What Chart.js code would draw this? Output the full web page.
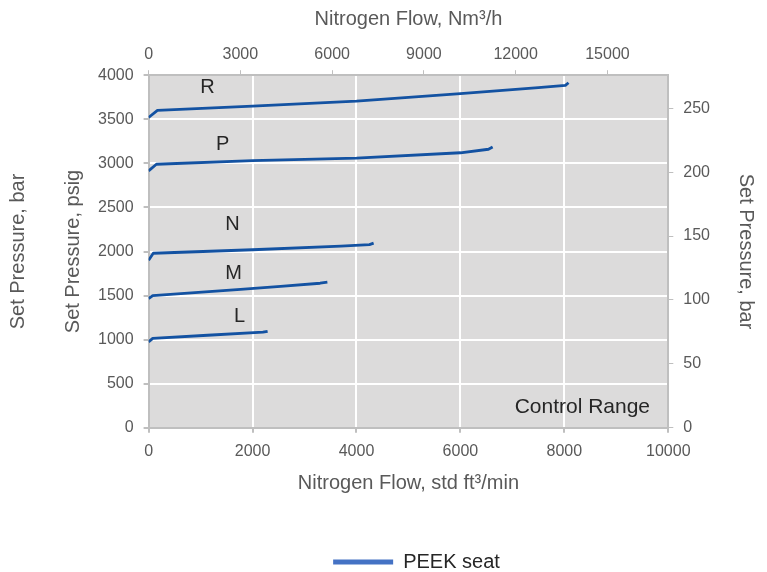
<!DOCTYPE html>
<html>
<head>
<meta charset="utf-8">
<script src="https://cdn.jsdelivr.net/npm/chart.js@4/dist/chart.umd.min.js"></script>
<style>
  html, body { margin: 0; padding: 0; background: #fff; }
  #wrap { width: 767px; height: 572px; }
</style>
</head>
<body>
<div id="wrap"><canvas id="chart"></canvas></div>
<script>
// seat curves: flow in std ft3/min, set pressure in psig
const curveNames = ["R", "P", "N", "M", "L"];

const rFlow = [0, 170, 2000, 4000, 6000, 7500, 8020, 8080];
const rPsig = [3520, 3600, 3650, 3705, 3790, 3860, 3885, 3915];

const pFlow = [0, 150, 2000, 4000, 6000, 6540, 6620];
const pPsig = [2915, 2990, 3030, 3060, 3120, 3160, 3185];

const nFlow = [0, 90, 2000, 3700, 4250, 4330];
const nPsig = [1900, 1980, 2020, 2060, 2078, 2095];

const mFlow = [0, 80, 1770, 2540, 3300, 3440];
const mPsig = [1467, 1500, 1570, 1605, 1640, 1652];

const lFlow = [0, 80, 1135, 2200, 2290];
const lPsig = [975, 1015, 1050, 1085, 1095];

// where the curve letters sit (flow, psig)
const nameFlow = [1135, 1423, 1615, 1635, 1750];
const namePsig = [3860, 3217, 2303, 1750, 1265];

const topTicks = [0, 3000, 6000, 9000, 12000, 15000];   // Nm3/h
const barTicks = [0, 50, 100, 150, 200, 250];

const seriesLabel = "PEEK seat";
const regionLabel = "Control Range";
const regionFlow = 8346, regionPsig = 237;

const FT3MIN_TO_M3H = 1.699;
const BAR_TO_PSI = 14.5038;

const LINE = "#1352a2";
const GRAY_TXT = "#595959";
const AXIS = "#bfbfbf";
const FONT = "'Liberation Sans', Arial, sans-serif";

const flows = [rFlow, pFlow, nFlow, mFlow, lFlow];
const psigs = [rPsig, pPsig, nPsig, mPsig, lPsig];

const datasets = flows.map((f, i) => ({
    label: i === 0 ? seriesLabel : curveNames[i],
    data: f.map((x, j) => ({ x, y: psigs[i][j] })),
    borderColor: LINE,
    backgroundColor: "#4472c4",
    borderWidth: 2.8,
    borderJoinStyle: "round",
    pointRadius: 0,
    tension: 0,
    xAxisID: "x",
    yAxisID: "y",
}));

const edgeless = (lo, hi) => ctx =>
    (ctx.tick && (ctx.tick.value === lo || ctx.tick.value === hi)) ? "rgba(0,0,0,0)" : "#ffffff";

const plain = v => String(v);
const tickFont = { family: FONT, size: 16 };
const titleFont = { family: FONT, size: 20 };

const bgPlugin = {
    id: "plotBg",
    beforeDraw(chart) {
        const { ctx, chartArea: a } = chart;
        ctx.save();
        ctx.fillStyle = "#dcdbdb";
        ctx.fillRect(a.left, a.top, a.right - a.left, a.bottom - a.top);
        ctx.restore();
    },
};

const textPlugin = {
    id: "curveText",
    afterDatasetsDraw(chart) {
        const { ctx, scales } = chart;
        ctx.save();
        ctx.fillStyle = "#262626";
        ctx.textAlign = "center";
        ctx.textBaseline = "middle";
        ctx.font = "20px " + FONT;
        curveNames.forEach((n, i) => {
            ctx.fillText(n, scales.x.getPixelForValue(nameFlow[i]), scales.y.getPixelForValue(namePsig[i]));
        });
        ctx.font = "21px " + FONT;
        ctx.fillText(regionLabel, scales.x.getPixelForValue(regionFlow), scales.y.getPixelForValue(regionPsig));
        ctx.restore();
    },
};

// nudge the legend so it sits under the plot centre, close to the bottom
const legendShift = {
    id: "legendShift",
    afterLayout(chart) {
        const lg = chart.legend;
        if (!lg) return;
        lg.left += 33;
        lg.right += 33;
        lg.top += 10;
        lg.bottom += 10;
    },
};

new Chart(document.getElementById("chart"), {
    type: "line",
    data: { datasets },
    plugins: [bgPlugin, textPlugin, legendShift],
    options: {
        responsive: true,
        maintainAspectRatio: false,
        animation: false,
        layout: { padding: { left: 0, right: 0, top: 2, bottom: 0 } },
        scales: {
            x: {
                type: "linear", position: "bottom", min: 0, max: 10000,
                ticks: { stepSize: 2000, color: GRAY_TXT, font: tickFont, padding: 9, callback: plain },
                grid: { color: edgeless(0, 10000), lineWidth: 2, tickColor: AXIS, tickLength: 5 },
                border: { color: AXIS, width: 2 },
                title: { display: true, text: "Nitrogen Flow, std ft³/min", color: GRAY_TXT,
                         font: titleFont, padding: { top: 1, bottom: 46 } },
            },
            x2: {
                type: "linear", position: "top", min: 0, max: 10000 * FT3MIN_TO_M3H,
                afterBuildTicks: s => { s.ticks = topTicks.map(value => ({ value })); },
                ticks: { color: GRAY_TXT, font: tickFont, padding: 6, callback: plain },
                grid: { drawOnChartArea: false, tickColor: AXIS, tickLength: 5 },
                border: { color: AXIS, width: 2 },
                title: { display: true, text: "Nitrogen Flow, Nm³/h", color: GRAY_TXT,
                         font: titleFont, padding: { top: 5, bottom: 8 } },
            },
            y: {
                type: "linear", position: "left", min: 0, max: 4000,
                ticks: { stepSize: 500, color: GRAY_TXT, font: tickFont, padding: 10, callback: plain },
                grid: { color: edgeless(0, 4000), lineWidth: 2, tickColor: AXIS, tickLength: 5 },
                border: { color: AXIS, width: 2 },
                title: { display: true, text: "Set Pressure, psig", color: GRAY_TXT,
                         font: titleFont, padding: { top: 0, bottom: 3 } },
            },
            yOuter: {
                type: "linear", position: "left", min: 0, max: 4000, weight: 1,
                ticks: { display: false },
                grid: { display: false, drawTicks: false },
                border: { display: false },
                title: { display: true, text: "Set Pressure, bar", color: GRAY_TXT,
                         font: titleFont, padding: { top: 6, bottom: 31 } },
            },
            y2: {
                type: "linear", position: "right", min: 0, max: 4000 / BAR_TO_PSI,
                afterBuildTicks: s => { s.ticks = barTicks.map(value => ({ value })); },
                ticks: { color: GRAY_TXT, font: tickFont, padding: 10, callback: plain },
                grid: { drawOnChartArea: false, tickColor: AXIS, tickLength: 5 },
                border: { color: AXIS, width: 2 },
                title: { display: true, text: "Set Pressure, bar", color: GRAY_TXT,
                         font: titleFont, padding: { top: 9, bottom: 14 } },
            },
        },
        plugins: {
            legend: {
                position: "bottom",
                labels: {
                    boxWidth: 60, boxHeight: 5, padding: 1,
                    color: "#262626",
                    font: { family: FONT, size: 20 },
                    generateLabels: () => [{
                        text: seriesLabel, datasetIndex: 0,
                        fillStyle: "#4472c4", strokeStyle: "#4472c4", lineWidth: 0,
                        fontColor: "#262626", hidden: false,
                    }],
                },
            },
            tooltip: { enabled: false },
        },
    },
});
</script>
</body>
</html>
